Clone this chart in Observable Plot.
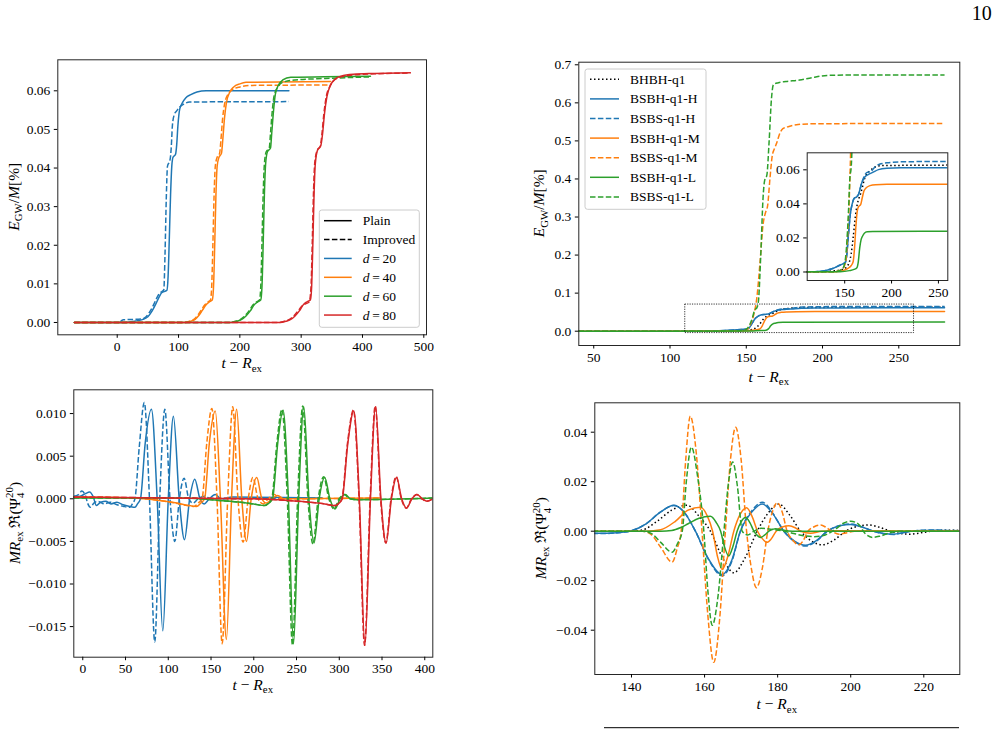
<!DOCTYPE html>
<html><head><meta charset="utf-8">
<script src="https://cdn.jsdelivr.net/npm/d3@7"></script>
<script src="https://cdn.jsdelivr.net/npm/@observablehq/plot@0.6"></script>
<style>
html,body{margin:0;padding:0;background:#fff}
body{width:997px;height:729px;position:relative;overflow:hidden}
.panel{position:absolute}
.panel svg{overflow:visible}
</style></head><body>
<script>
// ---------- colours ----------
const C_BLUE="#1f77b4", C_ORANGE="#ff7f0e", C_GREEN="#2ca02c", C_RED="#d62728", C_BLACK="#000000";

// ---------- top-left: E_GW/M [%] vs t - R_ex ----------
const tlXTicks=[0,100,200,300,400,500];
const tlYTicks=[0,0.01,0.02,0.03,0.04,0.05,0.06];
const tl_d20_plain=[[-70,0],[10,0],[30,0.0004],[42,0.0008],[50,0.0015],[57,0.003],[63,0.0048],[68,0.0065],[72,0.0076],[76,0.008],[81,0.0083],[83,0.012],[85,0.022],[87,0.033],[89,0.0405],[91,0.0428],[95,0.0435],[97,0.046],[99,0.051],[102,0.0553],[106,0.0568],[112,0.0582],[120,0.059],[130,0.0597],[145,0.06],[280,0.06]];
const tl_d20_impr=[[5,0.0002],[10,0.0007],[40,0.0009],[47,0.0015],[54,0.003],[60,0.0048],[65,0.0065],[69,0.0076],[73,0.008],[76,0.0085],[78,0.018],[80,0.032],[82,0.0405],[86,0.042],[88,0.045],[90,0.051],[93,0.0538],[97,0.0548],[102,0.0558],[108,0.0565],[118,0.0571],[280,0.0572]];
const tl_d40_plain=[[-70,0],[110,0],[120,0.0003],[127,0.0008],[133,0.0018],[139,0.0032],[145,0.0046],[150,0.0053],[155,0.0058],[157,0.009],[159,0.02],[161,0.033],[163,0.0405],[166,0.0428],[170,0.0438],[172,0.047],[175,0.053],[178,0.0568],[184,0.0598],[190,0.061],[200,0.0618],[210,0.0622],[348,0.0624]];
const tl_d40_impr=[[-70,0],[108,0],[118,0.0003],[125,0.0008],[131,0.0018],[137,0.0032],[143,0.0046],[148,0.0053],[152,0.0058],[154,0.009],[156,0.02],[158,0.033],[160,0.0405],[163,0.0428],[167,0.0438],[169,0.047],[172,0.053],[175,0.0565],[181,0.0592],[188,0.0603],[200,0.061],[220,0.0614],[348,0.0615]];
const tl_d60_plain=[[-70,0],[185,0],[195,0.0003],[203,0.0008],[210,0.0017],[217,0.003],[223,0.0045],[229,0.0053],[234,0.0058],[236,0.009],[238,0.02],[240,0.033],[242,0.041],[245,0.0442],[250,0.0452],[252,0.049],[255,0.055],[258,0.0592],[263,0.0615],[270,0.0628],[283,0.0635],[413,0.0638]];
const tl_d60_impr=[[-70,0],[183,0],[193,0.0003],[201,0.0008],[208,0.0017],[215,0.003],[221,0.0045],[227,0.0053],[232,0.0058],[234,0.009],[236,0.02],[238,0.033],[240,0.041],[243,0.0442],[248,0.0452],[250,0.049],[253,0.055],[256,0.0588],[262,0.061],[270,0.0622],[290,0.0628],[340,0.0632],[413,0.0636]];
const tl_d80_plain=[[-70,0],[265,0],[275,0.0003],[283,0.0008],[290,0.0017],[297,0.003],[303,0.0045],[309,0.0053],[315,0.0058],[317,0.009],[319,0.02],[321,0.033],[323,0.041],[327,0.0448],[332,0.0458],[335,0.049],[338,0.054],[342,0.0585],[348,0.0615],[355,0.063],[365,0.0638],[385,0.0643],[420,0.0645],[478,0.0647]];
const tl_d80_impr=[[-70,0],[263,0],[273,0.0003],[281,0.0008],[288,0.0017],[295,0.003],[301,0.0042],[307,0.0048],[313,0.0053],[316,0.009],[318,0.02],[320,0.033],[322,0.041],[326,0.0445],[331,0.0455],[334,0.049],[337,0.054],[341,0.0585],[347,0.0612],[354,0.0628],[365,0.0636],[385,0.0641],[420,0.0644],[478,0.0646]];
const tlLabels=["Plain","Improved","20","40","60","80"];

// ---------- top-right: E_GW/M [%] for the q1 runs ----------
const trXTicks=[50,100,150,200,250];
const trYTicks=[0,0.1,0.2,0.3,0.4,0.5,0.6,0.7];
const insetXTicks=[150,200,250];
const insetYTicks=[0,0.02,0.04,0.06];
const insetXRange=[110,260];
const insetYRange=[-0.005,0.07];
const tr_BHBH=[[40,0],[120,0],[135,0.0005],[145,0.0012],[150,0.002],[153,0.0035],[155,0.006],[157,0.011],[159,0.02],[161.5,0.033],[163.5,0.04],[165,0.043],[167,0.046],[169,0.05],[171,0.0545],[173,0.057],[177,0.0595],[182,0.0615],[190,0.0625],[280,0.0628]];
const tr_BSBH_H=[[40,0],[110,0.0001],[125,0.0005],[132,0.0012],[138,0.0022],[144,0.0038],[148,0.0048],[150.5,0.0055],[152,0.009],[154,0.022],[156,0.034],[158,0.04],[160,0.0432],[163,0.0442],[165,0.046],[168,0.052],[171,0.0555],[175,0.0572],[180,0.0585],[186,0.0601],[195,0.0609],[210,0.0612],[280,0.0613]];
const tr_BSBS_H=[[40,0],[110,0.0001],[125,0.0005],[132,0.0012],[138,0.0022],[144,0.0038],[148,0.0048],[150.5,0.0055],[152,0.009],[154,0.022],[156,0.034],[158,0.04],[160,0.0432],[163,0.0442],[165,0.046],[168,0.052],[171,0.0565],[174,0.0585],[178,0.059],[182,0.0615],[187,0.0633],[195,0.0641],[210,0.0647],[280,0.065]];
const tr_BSBH_M=[[40,0],[140,0.0002],[148,0.0008],[153,0.002],[157,0.0038],[159,0.006],[160.5,0.014],[162,0.027],[163.5,0.036],[165,0.0385],[167,0.0395],[168.5,0.043],[170.5,0.0475],[173,0.0495],[177,0.0507],[183,0.0513],[195,0.0515],[280,0.0515]];
const tr_BSBS_M=[[40,0],[140,0.0002],[148,0.002],[151,0.006],[153,0.02],[155,0.045],[157,0.09],[159,0.18],[161,0.28],[162.5,0.31],[164,0.33],[165.5,0.40],[167,0.46],[168.5,0.48],[170,0.495],[172,0.52],[174,0.532],[178,0.538],[184,0.543],[195,0.545],[280,0.546]];
const tr_BSBH_L=[[40,0],[145,0.0002],[155,0.0008],[160,0.0015],[163,0.0025],[164.5,0.006],[166,0.014],[167.5,0.019],[169,0.021],[171,0.0228],[174,0.0236],[180,0.0238],[280,0.0239]];
const tr_BSBS_L=[[40,0],[140,0.0002],[147,0.0015],[150,0.005],[152,0.015],[154,0.035],[155.5,0.055],[157,0.062],[158,0.08],[159.5,0.2],[161,0.35],[162,0.395],[163.5,0.41],[165,0.5],[166.5,0.61],[167.8,0.648],[171,0.653],[176,0.656],[185,0.66],[193,0.666],[203,0.672],[215,0.673],[280,0.673]];
const trLabels=["BHBH-q1","BSBH-q1-H","BSBS-q1-H","BSBH-q1-M","BSBS-q1-M","BSBH-q1-L","BSBS-q1-L"];

// ---------- bottom-left: waveforms for d = 20..80 ----------
const blXTicks=[0,50,100,150,200,250,300,350,400];
const blYTicks=[-0.015,-0.010,-0.005,0,0.005,0.010];
const bl_d20_plain=[[-10.5,0.0002],[-3,0.0003],[3,0.0006],[8,0.0008],[12,0.0003],[16,-0.0008],[21,-0.0004],[27,-0.0003],[33,-0.0006],[40,-0.0004],[47,-0.0007],[55,-0.0009],[61,-0.001],[64,-0.0006],[67.5,0],[73,0.0065],[80.3,0.0105],[87,0],[93.6,-0.0155],[100,0],[106,0.0097],[112.8,0],[119,-0.0048],[125,0],[131,0.0023],[137,0],[142,-0.0006],[148,0],[155,0.0005],[162,0],[175,0.0002],[280,0.0001]];
const bl_d20_impr=[[-10.5,0.0003],[-5,0.0005],[-1,0.0009],[3,0.0004],[6,-0.0006],[9,-0.001],[13,-0.0005],[18,-0.0003],[25,-0.0006],[32,-0.0004],[40,-0.0007],[48,-0.0009],[55,-0.001],[58,-0.0006],[61,0],[66,0.006],[72,0.0113],[78,0],[84.2,-0.0168],[90,0],[96,0.0105],[102,0],[107.6,-0.005],[113,0],[118.5,0.0024],[124,0],[129,-0.0005],[135,0],[142,0.0003],[150,0],[280,0.0001]];
const bl_d40_plain=[[-10.5,0.0002],[60,0.0001],[90,-0.0002],[110,-0.0005],[125,-0.0008],[133,-0.0009],[138,-0.0005],[142.5,0],[148,0.0065],[155,0.0103],[161,0],[168,-0.0165],[174,0],[180,0.0105],[186,0],[191.5,-0.005],[197,0],[203.5,0.0025],[209.5,0],[215,-0.0005],[221,0],[228,0.0004],[235,0],[348,0.0001]];
const bl_d40_impr=[[-10.5,0.0002],[60,0.0001],[90,-0.0002],[108,-0.0005],[122,-0.0008],[130,-0.0009],[135,-0.0005],[139.5,0],[145,0.0065],[151,0.0106],[157,0],[163,-0.017],[169.5,0],[175.4,0.0108],[181.5,0],[187.5,-0.0051],[193.5,0],[199,0.0025],[205,0],[211,-0.0006],[217,0],[224,0.0005],[231,0],[348,0.0001]];
const bl_d60_plain=[[-10.5,0.0001],[120,0.0001],[160,-0.0002],[185,-0.0004],[200,-0.0006],[213,-0.0008],[218,-0.0005],[222,0],[228,0.0065],[234.3,0.0104],[240.5,0],[246.5,-0.017],[252.5,0],[258.5,0.0108],[264.5,0],[270.5,-0.0052],[276.5,0],[283,0.0025],[289,0],[295,-0.0012],[301,0],[307,0.0005],[313,0],[320,-0.0001],[413,0.0001]];
const bl_d60_impr=[[-10.5,0.0001],[120,0.0001],[160,-0.0002],[184,-0.0004],[199,-0.0006],[212,-0.0008],[217,-0.0005],[221,0],[227,0.0065],[233,0.0105],[239.2,0],[245.3,-0.0172],[251.3,0],[257.3,0.0109],[263.3,0],[269.3,-0.0053],[275.3,0],[281.8,0.0026],[287.8,0],[293.8,-0.0012],[299.8,0],[306,0.0005],[312,0],[320,-0.0001],[413,0.0001]];
const bl_d80_plain=[[-10.5,0.0002],[100,0.0001],[200,0],[240,-0.0002],[265,-0.0004],[283,-0.0006],[295.5,-0.0008],[300,-0.0005],[303.5,0],[310,0.0065],[317,0.0103],[323.5,0],[330,-0.0172],[336.5,0],[342.5,0.0108],[348.7,0],[354.8,-0.0052],[361,0],[367,0.0025],[373,0],[378.6,-0.0011],[385,0],[391,0.0005],[397,0],[402.7,-0.0003],[409.5,0]];
const bl_d80_impr=[[-10.5,0.0002],[100,0.0001],[200,0],[240,-0.0002],[265,-0.0004],[283,-0.0006],[295,-0.0008],[299.6,-0.0005],[303.1,0],[309.6,0.0065],[316.6,0.0104],[323.1,0],[329.6,-0.0172],[336.1,0],[342.1,0.0109],[348.3,0],[354.4,-0.0052],[360.6,0],[366.6,0.0026],[372.6,0],[378.2,-0.0011],[384.6,0],[390.6,0.0005],[396.6,0],[402.3,-0.0003],[409.5,0]];

// ---------- bottom-right: waveforms for the q1 runs ----------
const brXTicks=[140,160,180,200,220];
const brYTicks=[-0.04,-0.02,0,0.02,0.04];
const br_BHBH=[[125,0],[140,0],[143,0.0005],[147,0.004],[151,0.0085],[155.2,0.0105],[158.5,0.006],[161.6,0],[165,-0.011],[168,-0.0168],[171,-0.011],[174.4,0],[177.5,0.0075],[180.3,0.011],[183.3,0.0065],[186.3,0],[189.3,-0.004],[192.2,-0.0055],[195.5,-0.0035],[198.6,0],[202,0.002],[205,0.0025],[208,0.0015],[210.9,0],[213.5,-0.0009],[216.4,-0.0012],[219,-0.0007],[222,0],[226,0.0004],[230,0.0003],[235,0]];
const br_BSBH_H=[[125,-0.0008],[133,-0.0008],[137,-0.0005],[140,0.0002],[144,0.003],[148,0.0078],[151.6,0.0105],[154.5,0.0075],[157.5,0],[161,-0.011],[164.8,-0.0175],[167.5,-0.0115],[169.8,0],[172.8,0.0075],[175.8,0.011],[178.8,0.0068],[181.7,0],[184.6,-0.004],[187.6,-0.0057],[190.6,-0.0038],[193.6,0],[197,0.0022],[200,0.0027],[203,0.0017],[206.3,0],[209,-0.0009],[211.8,-0.0012],[214,-0.0007],[216.5,0],[220,0.0003],[223,0.0004],[227,0.0002],[235,0.0001]];
const br_BSBS_H=[[125,-0.0009],[133,-0.0009],[137,-0.0005],[140,0.0002],[144,0.003],[148,0.0078],[151.6,0.0104],[154.5,0.0075],[157.5,0],[161,-0.0112],[164.8,-0.018],[167.5,-0.012],[169.8,0],[172.8,0.008],[175.8,0.0117],[178.8,0.007],[181.7,0],[184.6,-0.0042],[187.6,-0.006],[190.6,-0.004],[193.6,0],[197,0.0023],[200,0.0029],[203,0.0018],[206.3,0],[209,-0.001],[211.8,-0.0013],[214,-0.0007],[216.5,0],[220,0.0004],[223,0.0005],[227,0.0003],[235,0.0001]];
const br_BSBH_M=[[125,0],[144,0],[148,0.0006],[152,0.004],[155.5,0.0085],[158.9,0.0097],[160.8,0.006],[162.2,0],[163.5,-0.01],[164.8,-0.0155],[166.4,-0.01],[168,0],[169.8,0.007],[171.5,0.0095],[173,0.006],[174.5,0],[175.8,-0.003],[177.1,-0.0045],[178.3,-0.003],[179.6,0],[181.3,0.0017],[183.1,0.0022],[184.8,0.0014],[186.3,0],[189,-0.0008],[192,0],[195,0.0002],[235,0]];
const br_BSBS_M=[[125,0],[143,0],[145.5,-0.0015],[148,-0.0065],[151.1,-0.0125],[152.5,-0.007],[153.6,0],[154.8,0.028],[156.1,0.0465],[157.7,0.032],[159.3,0],[160.9,-0.034],[162.5,-0.053],[164.1,-0.036],[165.7,0],[167.1,0.029],[168.5,0.042],[170,0.029],[171.5,0],[172.8,-0.015],[174.2,-0.0228],[175.8,-0.015],[177.3,0],[178.6,0.008],[179.9,0.0115],[181.2,0.008],[182.6,0],[184.2,-0.0038],[185.8,-0.0055],[187,-0.0038],[188.3,0],[190,0.0018],[191.8,0.0025],[193.3,0.0015],[194.8,0],[196.8,-0.0012],[199,-0.0006],[201,0],[235,0]];
const br_BSBH_L=[[125,0],[148,0],[151,0.0003],[153.5,0.0015],[155.5,0.003],[158.5,0.0052],[161.6,0.006],[163.2,0.0035],[164.4,0],[165.4,-0.006],[166.6,-0.01],[167.8,-0.006],[168.9,0],[170,0.0038],[171.2,0.0055],[172.4,0.0035],[173.5,0],[174.4,-0.0017],[175.3,-0.0025],[176.4,-0.0016],[177.6,0],[179.4,0.001],[181.5,0.0004],[184,0],[235,0]];
const br_BSBS_L=[[125,0],[143,0],[145.5,-0.001],[148,-0.0045],[151.1,-0.0085],[152.6,-0.005],[153.9,0],[155,0.02],[156.4,0.034],[158.1,0.022],[159.8,0],[160.9,-0.024],[162.1,-0.038],[163.7,-0.026],[165.3,0],[166.5,0.019],[167.7,0.028],[169,0.018],[170.3,0],[171.8,-0.0015],[173.5,0],[175.5,0.0012],[178,0.0008],[181,0.0002],[184,-0.0008],[187,-0.0018],[190,-0.0022],[193,-0.0015],[196,0.001],[198,0.0032],[200,0.004],[202,0.003],[204,-0.001],[206,-0.0025],[208,-0.002],[211,-0.0005],[214,0],[235,0]];

// ---------- helpers ----------
const SERIF="'Liberation Serif','Times New Roman','DejaVu Serif',serif";
const DASH={solid:null,dashed:"5.5,2.4",dotted:"1.5,2.5"};
const TICK_FS=13.5;

function lineMark(s){
  return Plot.line(s.data,{x:d=>d[0],y:d=>d[1],stroke:s.color,strokeWidth:1.5,
    strokeDasharray:DASH[s.style],strokeLinecap:s.style==="solid"?"round":"butt",
    curve:"monotone-x",clip:true});
}

function makePanel(o){
  const [L,T,W,H]=o.box, [fl,ft,fr,fb]=o.frame;
  const marks=[];
  marks.push(Plot.frame({fill:"white",stroke:null}));
  o.series.forEach(s=>marks.push(lineMark(s)));
  (o.extra||[]).forEach(m=>marks.push(m));
  marks.push(Plot.frame({stroke:"#262626",strokeWidth:1}));
  marks.push(Plot.axisX({ticks:o.xTicks,tickFormat:o.xFmt,tickSize:3.5,tickPadding:3,label:null,
    fontSize:TICK_FS,fontFamily:SERIF}));
  marks.push(Plot.axisY({ticks:o.yTicks,tickFormat:o.yFmt,tickSize:3.5,tickPadding:4,label:null,
    fontSize:TICK_FS,fontFamily:SERIF}));
  const svg=Plot.plot({width:W,height:H,marginLeft:fl-L,marginTop:ft-T,marginRight:L+W-fr,marginBottom:T+H-fb,
    x:{domain:o.xDomain},y:{domain:o.yDomain},
    style:{fontFamily:SERIF,fontSize:TICK_FS+"px",color:"#000",background:"transparent",overflow:"visible"},
    marks});
  const div=document.createElement("div");
  div.className="panel";div.style.left=L+"px";div.style.top=T+"px";
  div.appendChild(svg);document.body.appendChild(div);
  const sel=d3.select(svg);
  sel.selectAll("g[aria-label$='tick label'] text").attr("font-size",TICK_FS).attr("font-family",SERIF);
  return {sel,L,T};
}

function rich(sel,x,y,segs,{size=15.5,rotate=false,anchor="middle"}={}){
  const t=sel.append("text").attr("font-family",SERIF).attr("font-size",size)
    .attr("fill","#000").attr("text-anchor",anchor).style("white-space","pre");
  if(rotate) t.attr("transform",`translate(${x},${y}) rotate(-90)`);
  else t.attr("x",x).attr("y",y);
  let cur=0;
  for(const s of segs){
    const ts=t.append("tspan").text(s.t);
    ts.attr("font-size",s.scale?size*s.scale:size);
    if(s.i) ts.attr("font-style","italic");
    const shift=(s.shift||0)*size;
    if(shift!==cur) ts.attr("dy",shift-cur);
    cur=shift;
    if(s.dx) ts.attr("dx",s.dx*size);
  }
  return t;
}

function legend(sel,o){
  sel.append("rect").attr("x",o.x).attr("y",o.y).attr("width",o.w).attr("height",o.h)
    .attr("rx",2.5).attr("fill","white").attr("fill-opacity",0.85).attr("stroke","#cccccc").attr("stroke-width",1);
  o.rows.forEach((r,i)=>{
    const cy=o.row0+i*o.rowH;
    sel.append("line").attr("x1",o.lx0).attr("x2",o.lx1).attr("y1",cy).attr("y2",cy)
      .attr("stroke",r.color).attr("stroke-width",1.5)
      .attr("stroke-dasharray",DASH[r.style]).attr("stroke-linecap","butt");
    rich(sel,o.tx,cy+o.size*0.33,r.segs,{size:o.size,anchor:"start"});
  });
}

const LBL_T=[{t:"t",i:1},{t:" \u2212 "},{t:"R",i:1},{t:"ex",scale:0.7,shift:0.22}];
const LBL_E=[{t:"E",i:1},{t:"GW",scale:0.7,shift:0.22},{t:"/",shift:0},{t:"M",i:1},{t:"[%]"}];
const LBL_PSI=[{t:"MR",i:1},{t:"ex",scale:0.7,shift:0.22},{t:" \u211C(",shift:0},{t:"\u03A8"},
  {t:"20",scale:0.7,shift:-0.4},{t:"4",scale:0.7,shift:0.3,dx:-0.7},{t:")",shift:0,dx:0.35}];

const f2=d3.format(".2f"), f1=d3.format(".1f"), f3=d3.format(".3f"), f0=d3.format("d");

// ---------- panel 1 (top-left) ----------
const tlColors=[C_BLUE,C_ORANGE,C_GREEN,C_RED];
const tlSeries=[
  {data:tl_d20_plain,color:C_BLUE,style:"solid"},{data:tl_d20_impr,color:C_BLUE,style:"dashed"},
  {data:tl_d40_plain,color:C_ORANGE,style:"solid"},{data:tl_d40_impr,color:C_ORANGE,style:"dashed"},
  {data:tl_d60_plain,color:C_GREEN,style:"solid"},{data:tl_d60_impr,color:C_GREEN,style:"dashed"},
  {data:tl_d80_plain,color:C_RED,style:"solid"},{data:tl_d80_impr,color:C_RED,style:"dashed"}];
const p1=makePanel({box:[0,50,440,330],frame:[57.3,59.3,426,334.3],xDomain:[-96.9,504.4],yDomain:[-0.00319,0.06803],
  xTicks:tlXTicks,yTicks:tlYTicks,xFmt:f0,yFmt:f2,series:tlSeries});
rich(p1.sel,241.7,318.3,LBL_T);
rich(p1.sel,18.5,146.8,LBL_E,{rotate:true});
legend(p1.sel,{x:319.3,y:160,w:100,h:117.3,row0:170.7,rowH:18.87,lx0:324,lx1:351.7,tx:362.7,size:13.5,
  rows:[{color:C_BLACK,style:"solid",segs:[{t:tlLabels[0]}]},
        {color:C_BLACK,style:"dashed",segs:[{t:tlLabels[1]}]},
        ...tlLabels.slice(2).map((v,i)=>({color:tlColors[i],style:"solid",segs:[{t:"d",i:1},{t:"\u2009=\u2009"+v}]}))]});

// ---------- panel 2 (top-right) ----------
const trSeries=[
  {data:tr_BHBH,color:C_BLACK,style:"dotted"},
  {data:tr_BSBH_H,color:C_BLUE,style:"solid"},{data:tr_BSBS_H,color:C_BLUE,style:"dashed"},
  {data:tr_BSBH_M,color:C_ORANGE,style:"solid"},{data:tr_BSBS_M,color:C_ORANGE,style:"dashed"},
  {data:tr_BSBH_L,color:C_GREEN,style:"solid"},{data:tr_BSBS_L,color:C_GREEN,style:"dashed"}];
const p2=makePanel({box:[520,50,477,340],frame:[578.3,61.7,959.3,345],xDomain:[40.2,290],yDomain:[-0.0376,0.7068],
  xTicks:trXTicks,yTicks:trYTicks,xFmt:f0,yFmt:f1,series:trSeries,
  extra:[Plot.rect([{x1:insetXRange[0],x2:insetXRange[1],y1:insetYRange[0],y2:insetYRange[1]}],
    {x1:"x1",x2:"x2",y1:"y1",y2:"y2",fill:"none",stroke:"#000",strokeWidth:0.8,strokeDasharray:"1.2,1.2"})]});
rich(p2.sel,768.8-520,381.7-50,LBL_T);
rich(p2.sel,544.3-520,203.3-50,LBL_E,{rotate:true});
legend(p2.sel,{x:65,y:19,w:121,h:140.3,row0:29.3,rowH:19.6,lx0:70,lx1:99,tx:110,size:13.5,
  rows:trSeries.map((s,i)=>({color:s.color,style:s.style,segs:[{t:trLabels[i]}]}))});

// inset
const pIn=makePanel({box:[760,140,210,170],frame:[806.7,152.3,947.3,280],xDomain:insetXRange,yDomain:insetYRange,
  xTicks:insetXTicks,yTicks:insetYTicks,xFmt:f0,yFmt:f2,series:trSeries});

// ---------- panel 3 (bottom-left) ----------
const blSeries=[
  {data:bl_d20_plain,color:C_BLUE,style:"solid"},{data:bl_d20_impr,color:C_BLUE,style:"dashed"},
  {data:bl_d40_plain,color:C_ORANGE,style:"solid"},{data:bl_d40_impr,color:C_ORANGE,style:"dashed"},
  {data:bl_d60_plain,color:C_GREEN,style:"solid"},{data:bl_d60_impr,color:C_GREEN,style:"dashed"},
  {data:bl_d80_plain,color:C_RED,style:"solid"},{data:bl_d80_impr,color:C_RED,style:"dashed"}];
const p3=makePanel({box:[0,380,440,320],frame:[73.3,389.3,432.3,656.7],xDomain:[-10.5,409.4],yDomain:[-0.01859,0.01279],
  xTicks:blXTicks,yTicks:blYTicks,xFmt:f0,yFmt:f3,series:blSeries});
rich(p3.sel,252.8,690-380,LBL_T);
rich(p3.sel,19.5,523-380,LBL_PSI,{rotate:true});

// ---------- panel 4 (bottom-right) ----------
const brSeries=[
  {data:br_BHBH,color:C_BLACK,style:"dotted"},
  {data:br_BSBH_H,color:C_BLUE,style:"solid"},{data:br_BSBS_H,color:C_BLUE,style:"dashed"},
  {data:br_BSBH_M,color:C_ORANGE,style:"solid"},{data:br_BSBS_M,color:C_ORANGE,style:"dashed"},
  {data:br_BSBH_L,color:C_GREEN,style:"solid"},{data:br_BSBS_L,color:C_GREEN,style:"dashed"}];
const p4=makePanel({box:[520,390,477,330],frame:[594.3,402.3,959.3,674],xDomain:[129.96,229.85],yDomain:[-0.0579,0.05188],
  xTicks:brXTicks,yTicks:brYTicks,xFmt:f0,yFmt:f2,series:brSeries});
rich(p4.sel,776.8-520,709.3-390,LBL_T);
rich(p4.sel,546-520,538.2-390,LBL_PSI,{rotate:true});

// ---------- page decorations ----------
const page=d3.select(document.body).append("svg").attr("width",997).attr("height",729)
  .style("position","absolute").style("left","0px").style("top","0px").style("pointer-events","none");
page.append("text").attr("x",991.7).attr("y",20).attr("text-anchor","end")
  .attr("font-family",SERIF).attr("font-size",20).attr("fill","#000").text("10");
page.append("line").attr("x1",604).attr("x2",959).attr("y1",727.7).attr("y2",727.7)
  .attr("stroke","#000").attr("stroke-width",1);
</script>
</body></html>
